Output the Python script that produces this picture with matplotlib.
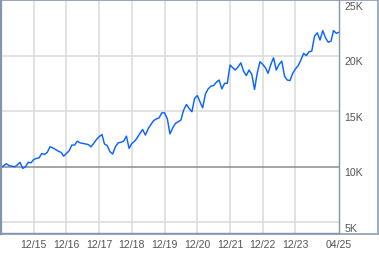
import matplotlib.pyplot as plt
import matplotlib.dates as mdates
import matplotlib.transforms as mtransforms
from matplotlib.patches import Rectangle
import pandas as pd

# Monthly values, Dec 2014 .. Apr 2025
dates = pd.date_range('2014-12-31', '2025-04-30', freq='ME')
values = [
    9930, 10100, 10270, 10100, 10050, 10000, 10150, 10400, 9850, 10000,
    10400, 10350, 10650, 10750, 10800, 11200, 11100, 11300, 11800, 11700,
    11550, 11400, 11300, 10950, 11200, 11450, 11950, 11950, 12300, 12150,
    12100, 12050, 12000, 11800, 12100, 12450, 12700, 12900, 12050, 11900,
    11350, 11150, 11800, 12150, 12200, 12300, 12750, 11650, 12100, 12300,
    12600, 13000, 13350, 12850, 13400, 13800, 14150, 14300, 14400, 14850,
    14850, 14300, 12950, 13500, 13900, 14050, 14200, 15100, 15600, 15250,
    14950, 16150, 16400, 15800, 15300, 16550, 17000, 17250, 17300, 17600,
    17800, 17000, 17500, 17500, 19150, 18900, 18700, 19000, 19350, 18600,
    18200, 18700, 18300, 16950, 18450, 19450, 19200, 18900, 18400, 19200,
    19800, 18700, 19200, 19500, 18150, 17800, 17750, 18400, 18800, 19100,
    19600, 20200, 20000, 20350, 20400, 21750, 22050, 21400, 22250, 21600,
    21200, 21300, 22250, 22000, 22100,
]

tick_dates = pd.to_datetime(['2015-12-31', '2016-12-31', '2017-12-31', '2018-12-31',
                             '2019-12-31', '2020-12-31', '2021-12-31', '2022-12-31',
                             '2023-12-31', '2025-04-30'])
tick_labels = ['12/15', '12/16', '12/17', '12/18', '12/19', '12/20', '12/21',
               '12/22', '12/23', '04/25']
y_ticks = [5000, 10000, 15000, 20000, 25000]
y_labels = ['5K', '10K', '15K', '20K', '25K']

W, H = 379, 255
fig = plt.figure(figsize=(W / 100, H / 100), dpi=100)
ax = fig.add_axes([1 / W, 21 / H, 338 / W, 233 / H])

frame_col = '#8394b0'
text_col = '#555555'
font = {'family': 'Liberation Sans', 'size': 7.6, 'color': text_col}

# grid
for d in tick_dates[:-1]:
    ax.axvline(d, color='#dddddd', lw=1.2, zorder=1)
for y in y_ticks:
    if y == 10000:
        ax.axhline(y, color='#8c8c8c', lw=1.1, zorder=2)
    else:
        ax.axhline(y, color='#dddddd', lw=1.2, zorder=1)

ax.plot(dates, values, color='#0a64ff', lw=1.05, zorder=3)

ax.set_xlim(dates[0], dates[-1])
ax.set_ylim(4040, 25000)

ax.set_xticks(tick_dates)
ax.xaxis.set_major_formatter(mdates.DateFormatter('%m/%y'))
ax.set_xticklabels(tick_labels, fontdict=font)
ax.tick_params(axis='x', length=0, pad=4)

ax.yaxis.tick_right()
ax.set_yticks(y_ticks)
ax.set_yticklabels(y_labels, fontdict=font)
ax.tick_params(axis='y', length=0, pad=4)
shift = mtransforms.ScaledTranslation(0, -5.5 / 100, fig.dpi_scale_trans)
for lab in ax.get_yticklabels():
    lab.set_verticalalignment('center')
    lab.set_transform(lab.get_transform() + shift)

for s in ['top', 'left']:
    ax.spines[s].set_visible(False)
ax.spines['bottom'].set_color(frame_col)
ax.spines['right'].set_color(frame_col)
ax.spines['bottom'].set_linewidth(1.0)
ax.spines['right'].set_linewidth(1.0)

# outer box round plot and label column (left edge a bit heavier)
fig.patches.append(Rectangle((0.5 / W, 20.5 / H), 377.5 / W, 234 / H,
                             transform=fig.transFigure, fill=False,
                             edgecolor=frame_col, lw=1.1, zorder=5))
fig.add_artist(plt.Line2D([1 / W, 1 / W], [20.5 / H, 1], transform=fig.transFigure,
                          color=frame_col, lw=1.6, zorder=5))

fig.savefig('out.png', dpi=100)
